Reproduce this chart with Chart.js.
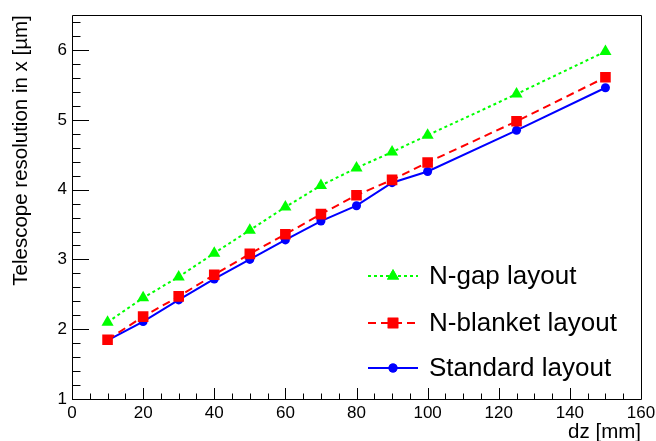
<!DOCTYPE html>
<html>
<head>
<meta charset="utf-8">
<script src="https://cdn.jsdelivr.net/npm/chart.js@4.4.0/dist/chart.umd.min.js"></script>
<style>
  html, body { margin: 0; padding: 0; background: #fff; }
  #wrap { width: 656px; height: 441px; }
</style>
</head>
<body>
<div id="wrap"><canvas id="resChart" width="656" height="441"></canvas></div>
<script>
  // dz values [mm]
  const dz = [10, 20, 30, 40, 50, 60, 70, 80, 90, 100, 125, 150];
  // resolution in x [um]
  const nGap = [2.10, 2.45, 2.75, 3.09, 3.42, 3.75, 4.06, 4.31, 4.54, 4.78, 5.37, 5.98];
  const nBlanket = [1.85, 2.18, 2.47, 2.78, 3.08, 3.36, 3.65, 3.92, 4.14, 4.39, 4.98, 5.61];
  const standard = [1.84, 2.11, 2.42, 2.72, 3.00, 3.28, 3.55, 3.77, 4.10, 4.26, 4.85, 5.46];
  const seriesNames = ['N-gap layout', 'N-blanket layout', 'Standard layout'];
  const xTicks = [0, 20, 40, 60, 80, 100, 120, 140, 160];
  const yTicks = [1, 2, 3, 4, 5, 6];

  const toPts = vals => vals.map((v, i) => ({ x: dz[i], y: v }));

  // ROOT style ticks drawn inside the frame, plus the frame itself
  const rootAxes = {
    id: 'rootAxes',
    beforeDatasetsDraw(chart) {
      const { ctx, chartArea: a, scales: { x, y } } = chart;
      ctx.save();
      ctx.strokeStyle = '#000';
      ctx.lineWidth = 1;
      ctx.beginPath();
      for (let v = 0; v <= 160; v += 5) {
        const px = Math.round(x.getPixelForValue(v)) + 0.5;
        const len = v % 20 === 0 ? 11 : 5.5;
        ctx.moveTo(px, a.bottom);
        ctx.lineTo(px, a.bottom - len);
      }
      for (let k = 0; k <= 27; k++) {
        const v = 1 + k * 0.2;
        const py = Math.round(y.getPixelForValue(v)) + 0.5;
        const len = k % 5 === 0 ? 17 : 8.5;
        ctx.moveTo(a.left, py);
        ctx.lineTo(a.left + len, py);
      }
      ctx.stroke();
      ctx.beginPath();
      ctx.rect(Math.round(a.left) + 0.5, Math.round(a.top) + 0.5,
               Math.round(a.right - a.left), Math.round(a.bottom - a.top));
      ctx.stroke();
      ctx.restore();
    },
    afterDatasetsDraw(chart) {
      // legend inside the plot, ROOT TLegend look
      const { ctx } = chart;
      const rows = [276, 323, 368];
      ctx.save();
      chart.data.datasets.forEach((ds, i) => {
        const yy = rows[i];
        ctx.strokeStyle = ds.borderColor;
        ctx.lineWidth = ds.borderWidth;
        ctx.setLineDash(ds.borderDash || []);
        ctx.beginPath();
        ctx.moveTo(368, yy);
        ctx.lineTo(418, yy);
        ctx.stroke();
        ctx.setLineDash([]);
        ctx.fillStyle = ds.pointBackgroundColor;
        Chart.helpers.drawPoint(ctx, { pointStyle: ds.pointStyle, radius: ds.pointRadius, borderWidth: 0 }, 393, yy);
        ctx.fill();
        ctx.fillStyle = '#000';
        ctx.font = '26px "Liberation Sans", Arial, sans-serif';
        ctx.textBaseline = 'middle';
        ctx.fillText(ds.label, 429, yy + 1);
      });
      ctx.restore();
    }
  };

  const font = { family: '"Liberation Sans", Arial, sans-serif', size: 17 };

  new Chart(document.getElementById('resChart'), {
    type: 'line',
    data: {
      datasets: [
        {
          label: seriesNames[0],
          data: toPts(nGap),
          borderColor: '#00ff00',
          pointBackgroundColor: '#00ff00',
          pointBorderWidth: 0,
          borderWidth: 2,
          borderDash: [3, 3],
          pointStyle: 'triangle',
          pointRadius: 7
        },
        {
          label: seriesNames[1],
          data: toPts(nBlanket),
          borderColor: '#ff0000',
          pointBackgroundColor: '#ff0000',
          pointBorderWidth: 0,
          borderWidth: 2,
          borderDash: [8, 5],
          pointStyle: 'rect',
          pointRadius: 7.5
        },
        {
          label: seriesNames[2],
          data: toPts(standard),
          borderColor: '#0000ff',
          pointBackgroundColor: '#0000ff',
          pointBorderWidth: 0,
          borderWidth: 2,
          pointStyle: 'circle',
          pointRadius: 4.5
        }
      ]
    },
    options: {
      responsive: false,
      animation: false,
      layout: { padding: { top: 12, right: 15, left: 0, bottom: 0 } },
      plugins: {
        legend: { display: false },
        tooltip: { enabled: false }
      },
      scales: {
        x: {
          type: 'linear',
          min: 0,
          max: 160,
          afterBuildTicks: s => { s.ticks = xTicks.map(v => ({ value: v })); },
          afterFit: s => { s.height = 42; s.paddingRight = 0; s.paddingLeft = 0; },
          grid: { display: false, drawTicks: false },
          border: { display: false },
          ticks: { color: '#000', font: font, padding: 4, maxRotation: 0 },
          title: {
            display: true,
            text: 'dz [mm]',
            align: 'end',
            color: '#000',
            font: { family: font.family, size: 20.5, lineHeight: 0.8 },
            padding: 0
          }
        },
        y: {
          type: 'linear',
          min: 1,
          max: 6.5,
          afterBuildTicks: s => { s.ticks = yTicks.map(v => ({ value: v })); },
          afterFit: s => { s.width = 72; },
          grid: { display: false, drawTicks: false },
          border: { display: false },
          ticks: { color: '#000', font: font, padding: 5 },
          title: {
            display: true,
            text: 'Telescope resolution in x [µm]',
            align: 'end',
            color: '#000',
            font: { family: font.family, size: 20.5, lineHeight: 1.2 },
            padding: { top: 9, bottom: 0 }
          }
        }
      }
    },
    plugins: [rootAxes]
  });
</script>
</body>
</html>
